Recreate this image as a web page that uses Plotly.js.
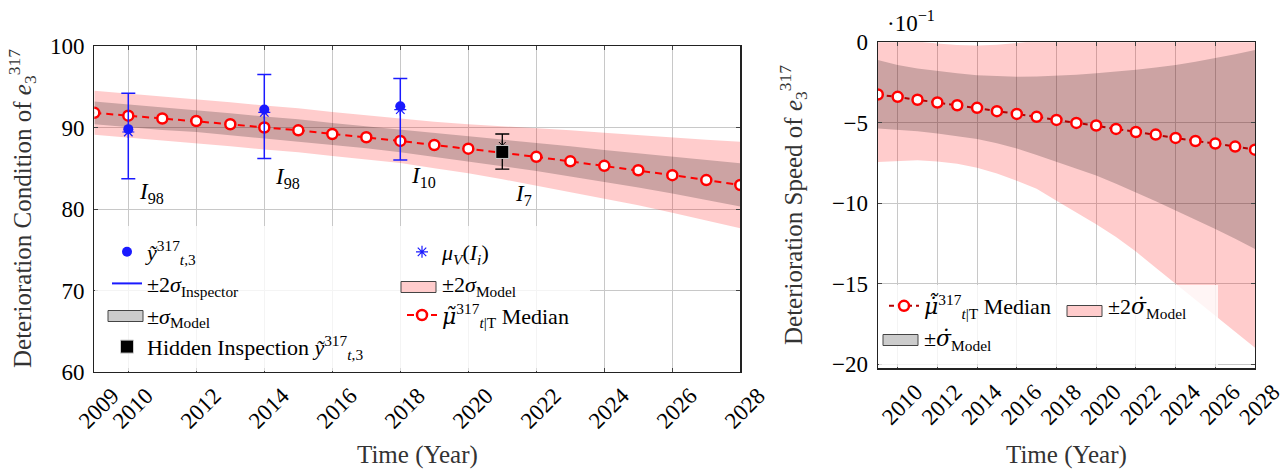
<!DOCTYPE html>
<html><head><meta charset="utf-8">
<script src="https://cdn.plot.ly/plotly-3.0.1.min.js"></script>
<style>html,body{margin:0;padding:0;background:#fff}#chart{width:1285px;height:470px}</style>
</head><body><div id="chart"></div>
<script>
// ---------- data ----------
const years = [2009,2010,2011,2012,2013,2014,2015,2016,2017,2018,2019,2020,2021,2022,2023,2024,2025,2026,2027,2028];

// Left panel: deterioration condition
const medianL  = [91.8,91.45,91.1,90.8,90.4,90.0,89.65,89.2,88.8,88.35,87.85,87.4,86.9,86.4,85.85,85.3,84.75,84.15,83.55,82.95];
const innerUpL = [93.2,92.85,92.5,92.15,91.75,91.35,91.0,90.55,90.15,89.75,89.3,88.95,88.55,88.15,87.7,87.25,86.85,86.4,86.0,85.6];
const innerLoL = [90.4,90.05,89.7,89.45,89.05,88.65,88.3,87.85,87.45,86.95,86.4,85.85,85.25,84.65,84.0,83.35,82.65,81.9,81.1,80.3];
const outerUpL = [94.5,94.15,93.8,93.5,93.1,92.7,92.35,91.9,91.5,91.05,90.7,90.4,90.15,89.95,89.65,89.35,89.05,88.75,88.5,88.25];
const outerLoL = [89.1,88.75,88.4,88.1,87.7,87.3,86.95,86.5,86.1,85.65,85.0,84.4,83.65,82.85,82.05,81.25,80.45,79.55,78.6,77.65];

const obsYears    = [2010,2014,2018];
const obsVals     = [89.8,92.2,92.6];
const obsErrPlus  = [4.4,4.3,3.4];
const obsErrMinus = [6.1,6.0,6.6];
const muVVals     = [89.45,91.85,92.2];

const hiddenYears    = [2021];
const hiddenVals     = [87.0];
const hiddenMuV      = [87.8];
const hiddenErrPlus  = [2.2];
const hiddenErrMinus = [2.1];

const inspLabels = ['98','98','10','7'];
const inspX      = [2010.25,2014.25,2018.25,2021.3];
const inspY      = [82.0,83.8,83.9,81.7];

const xTicksL = [2009,2010,2012,2014,2016,2018,2020,2022,2024,2026,2028];
const yTicksL = [60,70,80,90,100];

// Right panel: deterioration speed (x 10^-1)
const medianR  = [-3.24,-3.39,-3.57,-3.74,-3.91,-4.07,-4.28,-4.45,-4.63,-4.82,-5.01,-5.17,-5.38,-5.57,-5.73,-5.94,-6.13,-6.29,-6.48,-6.67];
const innerUpR = [-1.1,-1.41,-1.62,-1.79,-1.93,-2.04,-2.1,-2.14,-2.12,-2.08,-2.02,-1.93,-1.83,-1.7,-1.56,-1.41,-1.21,-1.0,-0.75,-0.48];
const innerLoR = [-5.36,-5.42,-5.52,-5.67,-5.82,-6.0,-6.27,-6.6,-7.0,-7.44,-7.85,-8.27,-8.78,-9.31,-9.87,-10.45,-11.0,-11.59,-12.2,-12.84];
const outerUpR = [1.0,0.5,0.05,-0.08,-0.17,-0.2,-0.15,-0.05,0.1,0.35,0.7,1.1,1.6,2.1,2.6,3.1,3.7,4.3,5.0,5.7];
const outerLoR = [-7.44,-7.36,-7.32,-7.4,-7.55,-7.8,-8.15,-8.6,-9.1,-9.85,-10.55,-11.3,-12.1,-13.0,-14.0,-15.0,-16.0,-17.0,-18.0,-18.97];

const xTicksR = [2010,2012,2014,2016,2018,2020,2022,2024,2026,2028];
const yTicksR = [-20,-15,-10,-5,0];

// ---------- styling ----------
const W = 1285, H = 470;
const FONT = "'Liberation Serif','DejaVu Serif',serif";
const DV = "<span style=\"font-family:'DejaVu Serif'\">";
const PINK = 'rgba(255,0,0,0.2)';
const GREY = 'rgba(0,0,0,0.2)';
const PINK_SOLID = 'rgb(255,204,204)';
const GREY_SOLID = 'rgb(204,204,204)';
const none = {width:0, color:'rgba(0,0,0,0)'};

const yt = '<i>ỹ</i><sup>317</sup><sub><i>t</i>,3</sub>';
const muT = DV + '<i>μ̃</i></span>';
const muDT = DV + '<i>μ̇̃</i></span>';
const sigD = DV + '<i>σ̇</i></span>';

// legend-only entry whose swatch is drawn as a rectangle shape
function legendEntry(name, legend, rank, xa, ya) {
  return {x:[null], y:[null], mode:'lines', name:name, legend:legend, legendrank:rank,
          line:{color:'rgba(0,0,0,0)', width:0}, xaxis:xa, yaxis:ya, hoverinfo:'skip'};
}

const traces = [
  // left bands
  {x:years, y:outerLoL, mode:'lines', line:none, showlegend:false, hoverinfo:'skip', xaxis:'x', yaxis:'y'},
  {x:years, y:outerUpL, mode:'lines', line:none, fill:'tonexty', fillcolor:PINK, showlegend:false, hoverinfo:'skip', xaxis:'x', yaxis:'y'},
  {x:years, y:innerLoL, mode:'lines', line:none, showlegend:false, hoverinfo:'skip', xaxis:'x', yaxis:'y'},
  {x:years, y:innerUpL, mode:'lines', line:none, fill:'tonexty', fillcolor:GREY, showlegend:false, hoverinfo:'skip', xaxis:'x', yaxis:'y'},
  // left median
  {x:years, y:medianL, mode:'lines+markers', name:muT+'<sup>317</sup><sub><i>t</i>|T</sub> Median', legend:'legend2', legendrank:3,
   line:{color:'#ff0000', width:2, dash:'7px,5px'},
   marker:{symbol:'circle', size:10, color:'#ffffff', line:{color:'#ff0000', width:2.5}}, xaxis:'x', yaxis:'y'},
  // observations
  {x:obsYears, y:obsVals, mode:'markers', name:yt, legend:'legend', legendrank:1,
   marker:{symbol:'circle', size:10, color:'#1a1aff'},
   error_y:{type:'data', symmetric:false, array:obsErrPlus, arrayminus:obsErrMinus, color:'#1a1aff', thickness:1.5, width:7},
   xaxis:'x', yaxis:'y'},
  {x:obsYears, y:muVVals, mode:'markers', name:'<i>μ<sub>V</sub></i>(<i>I<sub>i</sub></i>)', legend:'legend2', legendrank:1,
   marker:{symbol:'asterisk-open', size:10, color:'#1a1aff', line:{color:'#1a1aff', width:1.2}}, xaxis:'x', yaxis:'y'},
  {x:[null], y:[null], mode:'lines', name:'±2<i>σ</i><sub>Inspector</sub>', legend:'legend', legendrank:2,
   line:{color:'#1a1aff', width:2}, xaxis:'x', yaxis:'y'},
  legendEntry('±<i>σ</i><sub>Model</sub>', 'legend', 3, 'x', 'y'),
  legendEntry('±2<i>σ</i><sub>Model</sub>', 'legend2', 2, 'x', 'y'),
  // hidden inspection
  {x:hiddenYears, y:hiddenMuV, mode:'markers', showlegend:false, hoverinfo:'skip',
   marker:{symbol:'asterisk-open', size:8, color:'#000', line:{color:'#000', width:1}}, xaxis:'x', yaxis:'y'},
  {x:hiddenYears, y:hiddenVals, mode:'markers', name:'Hidden Inspection '+yt, legend:'legend', legendrank:4,
   marker:{symbol:'square', size:13, color:'#000000', line:{color:'#cccccc', width:1}},
   error_y:{type:'data', symmetric:false, array:hiddenErrPlus, arrayminus:hiddenErrMinus, color:'#000000', thickness:1.3, width:7},
   xaxis:'x', yaxis:'y'},

  // right bands
  {x:years, y:outerLoR, mode:'lines', line:none, showlegend:false, hoverinfo:'skip', xaxis:'x2', yaxis:'y2'},
  {x:years, y:outerUpR, mode:'lines', line:none, fill:'tonexty', fillcolor:PINK, showlegend:false, hoverinfo:'skip', xaxis:'x2', yaxis:'y2'},
  {x:years, y:innerLoR, mode:'lines', line:none, showlegend:false, hoverinfo:'skip', xaxis:'x2', yaxis:'y2'},
  {x:years, y:innerUpR, mode:'lines', line:none, fill:'tonexty', fillcolor:GREY, showlegend:false, hoverinfo:'skip', xaxis:'x2', yaxis:'y2'},
  {x:years, y:medianR, mode:'lines+markers', name:muDT+'<sup>317</sup><sub><i>t</i>|T</sub> Median', legend:'legend3', legendrank:1,
   line:{color:'#b30000', width:2, dash:'5px,4px'},
   marker:{symbol:'circle', size:10, color:'#ffffff', line:{color:'#ff0000', width:2.5}}, xaxis:'x2', yaxis:'y2'},
  legendEntry('±'+sigD+'<sub>Model</sub>', 'legend3', 2, 'x2', 'y2'),
  legendEntry('±2'+sigD+'<sub>Model</sub>', 'legend4', 1, 'x2', 'y2')
];

const axisCommon = {
  showgrid:true, gridcolor:'#c8c8c8', gridwidth:1, zeroline:false,
  showline:true, linecolor:'#222', linewidth:1.2, mirror:'ticks',
  ticks:'inside', ticklen:4, tickcolor:'#444',
  tickfont:{family:FONT, size:23, color:'#000'}, fixedrange:true
};

const legBase = {
  bgcolor:'rgba(0,0,0,0)', borderwidth:0, font:{family:FONT, size:22, color:'#000'},
  xanchor:'left', yanchor:'top', orientation:'v', traceorder:'normal', tracegroupgap:0
};

const TITLE_FONT = {family:FONT, size:25, color:'#333'};
const annotations = [];
inspLabels.forEach((t,i) => annotations.push({
  x:inspX[i], y:inspY[i], xref:'x', yref:'y', text:'<i>I</i><sub>'+t+'</sub>',
  showarrow:false, xanchor:'left', yanchor:'middle', font:{family:FONT, size:23, color:'#000'}
}));
annotations.push(
  {x:885/W, y:1-22/H, xref:'paper', yref:'paper', text:'·10<sup>−1</sup>', showarrow:false, xanchor:'left', yanchor:'middle', font:{family:FONT, size:23, color:'#000'}},
  {x:417/W, y:1-455/H, xref:'paper', yref:'paper', text:'Time (Year)', showarrow:false, xanchor:'center', yanchor:'middle', font:TITLE_FONT},
  {x:1066/W, y:1-455/H, xref:'paper', yref:'paper', text:'Time (Year)', showarrow:false, xanchor:'center', yanchor:'middle', font:TITLE_FONT},
  {x:22/W, y:1-209/H, xref:'paper', yref:'paper', text:'Deterioration Condition of <i>e</i><sub>3</sub><sup>317</sup>', textangle:-90, showarrow:false, xanchor:'center', yanchor:'middle', font:TITLE_FONT},
  {x:793/W, y:1-205/H, xref:'paper', yref:'paper', text:'Deterioration Speed of <i>e</i><sub>3</sub><sup>317</sup>', textangle:-90, showarrow:false, xanchor:'center', yanchor:'middle', font:TITLE_FONT}
);

// legend swatch rectangles (pixel positions converted to paper)
function swatch(x0, yc, fill) {
  return {type:'rect', xref:'paper', yref:'paper', x0:x0/W, x1:(x0+35)/W, y0:1-(yc+5.5)/H, y1:1-(yc-5.5)/H,
          fillcolor:fill, line:{color:'#444', width:1}, layer:'above'};
}

const layout = {
  width:W, height:H, margin:{l:0, r:0, t:0, b:0},
  paper_bgcolor:'#fff', plot_bgcolor:'#fff',
  font:{family:FONT, color:'#000'},
  xaxis:Object.assign({}, axisCommon, {domain:[94.3/W, 740.3/W], anchor:'y', range:[2009,2028],
    tickmode:'array', tickvals:xTicksL, ticktext:xTicksL.map(String), tickangle:-45, ticklabelshift:18}),
  yaxis:Object.assign({}, axisCommon, {domain:[1-372/H, 1-46/H], anchor:'x', range:[60,100],
    tickmode:'array', tickvals:yTicksL, ticktext:yTicksL.map(String), ticklabelstandoff:4}),
  xaxis2:Object.assign({}, axisCommon, {domain:[877.8/W, 1255/W], anchor:'y2', range:[2009,2028],
    tickmode:'array', tickvals:xTicksR, ticktext:xTicksR.map(String), tickangle:-45, ticklabelshift:18}),
  yaxis2:Object.assign({}, axisCommon, {domain:[1-368.3/H, 1-42.3/H], anchor:'x2', range:[-20.25,0],
    tickmode:'array', tickvals:yTicksR, ticktext:yTicksR.map(v => v<0 ? '−'+Math.abs(v) : String(v)), ticklabelstandoff:4}),
  legend:Object.assign({}, legBase, {x:107/W, y:1-231/H}),
  legend2:Object.assign({}, legBase, {x:402/W, y:1-231/H}),
  legend3:Object.assign({}, legBase, {x:884/W, y:1-285/H}),
  legend4:Object.assign({}, legBase, {x:1068/W, y:1-285/H}),
  shapes:[
    {type:'rect', xref:'paper', yref:'paper', x0:95/W, x1:590/W, y0:1-371/H, y1:1-226/H, fillcolor:'rgba(255,255,255,0.8)', line:{width:0}, layer:'above'},
    {type:'rect', xref:'paper', yref:'paper', x0:879/W, x1:1218/W, y0:1-367/H, y1:1-285/H, fillcolor:'rgba(255,255,255,0.8)', line:{width:0}, layer:'above'},
    swatch(108, 316, GREY_SOLID),
    swatch(401, 287, PINK_SOLID),
    swatch(883, 340, GREY_SOLID),
    swatch(1067, 311, PINK_SOLID)
  ],
  annotations:annotations,
  showlegend:true
};

Plotly.newPlot('chart', traces, layout, {displayModeBar:false, staticPlot:true});
</script>
</body></html>
